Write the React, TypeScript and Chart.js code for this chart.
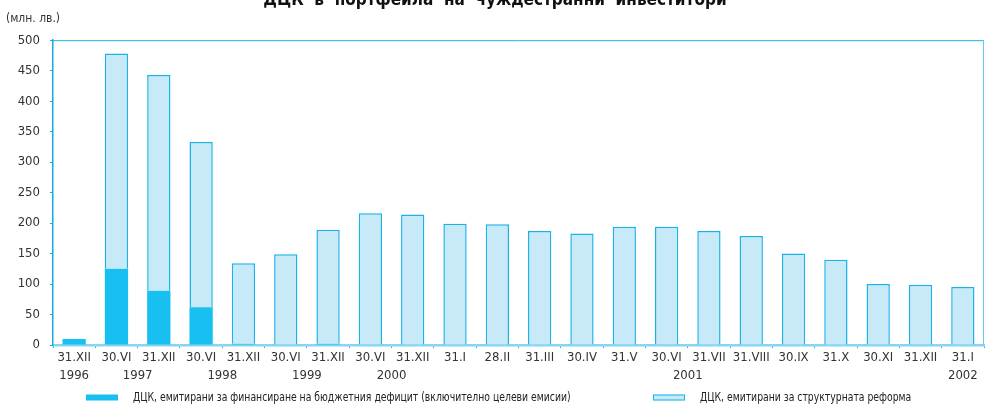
import React, { useEffect, useRef } from 'react';
import { Chart, registerables } from 'chart.js';

Chart.register(...registerables);

const FONT = "'Liberation Sans Narrow', 'Arial Narrow', 'DejaVu Sans Condensed', sans-serif";

const titleText = 'ДЦК  в  портфейла  на  чуждестранни  инвеститори';
const unitText = '(млн. лв.)';

const categories = [
  '31.XII', '30.VI', '31.XII', '30.VI', '31.XII', '30.VI', '31.XII', '30.VI', '31.XII',
  '31.I', '28.II', '31.III', '30.IV', '31.V', '30.VI', '31.VII', '31.VIII', '30.IX', '31.X', '30.XI', '31.XII',
  '31.I',
];
const categoryYears = [
  '1996', '1997', '1997', '1998', '1998', '1999', '1999', '2000', '2000',
  '2001', '2001', '2001', '2001', '2001', '2001', '2001', '2001', '2001', '2001', '2001', '2001',
  '2002',
];
const deficitValues = [10, 125, 89, 62, 2, 0, 2, 0, 1, 0, 0, 0, 0, 0, 0, 0, 0, 0, 1, 0, 0, 0];
const reformValues = [0, 353, 354, 271, 132, 149, 187, 216, 213, 199, 198, 187, 183, 194, 194, 187, 179, 150, 139, 100, 99, 95];

const seriesLabels = [
  'ДЦК, емитирани за финансиране на бюджетния дефицит (включително целеви емисии)',
  'ДЦК, емитирани за структурната реформа',
];

const yMin = 0;
const yMax = 500;
const yStep = 50;

const DARK = '#17c0f1';
const LIGHT = '#c7e9f8';
const LIGHT_BORDER = '#1ab3e8';

// year labels centred under their groups of categories
const yearLabels: string[] = [];
const yearCenters: number[] = [];
(() => {
  const groups: Record<string, number[]> = {};
  categoryYears.forEach((y, i) => {
    if (!groups[y]) { groups[y] = []; yearLabels.push(y); }
    groups[y].push(i);
  });
  yearLabels.forEach((y) => {
    const idx = groups[y];
    yearCenters.push(idx.reduce((a, b) => a + b, 0) / idx.length);
  });
})();

const framePlugin = {
  id: 'frame',
  afterDatasetsDraw(chart: any) {
    const { ctx, chartArea } = chart;
    ctx.save();
    ctx.lineWidth = 1;
    ctx.strokeStyle = '#1ab0e8';
    ctx.beginPath();
    ctx.moveTo(chartArea.left, chartArea.top + 0.5);
    ctx.lineTo(chartArea.right, chartArea.top + 0.5);
    ctx.stroke();
    ctx.strokeStyle = '#62c9ef';
    ctx.beginPath();
    ctx.moveTo(chartArea.right - 0.5, chartArea.top);
    ctx.lineTo(chartArea.right - 0.5, chartArea.bottom);
    ctx.stroke();
    ctx.restore();
  },
};

const legendPlugin = {
  id: 'bottomLegend',
  afterDraw(chart: any) {
    const { ctx } = chart;
    const y = chart.height - 6.5;
    const starts = [86, 653];
    const squeeze = 0.86;
    ctx.save();
    ctx.font = `12px ${FONT}`;
    ctx.textBaseline = 'middle';
    ctx.textAlign = 'left';
    chart.data.datasets.forEach((ds: any, i: number) => {
      const x = starts[i];
      ctx.fillStyle = ds.backgroundColor;
      ctx.fillRect(x, y - 3, 32, 6);
      if (ds.borderWidth) {
        ctx.strokeStyle = ds.borderColor;
        ctx.lineWidth = 1;
        ctx.strokeRect(x + 0.5, y - 2.5, 31, 5);
      }
      ctx.fillStyle = '#222';
      const w = ctx.measureText(ds.label).width;
      ctx.fillText(ds.label, x + 47, y + 0.5, w * squeeze);
    });
    ctx.restore();
  },
};

export default function App() {
  const ref = useRef<HTMLCanvasElement | null>(null);

  useEffect(() => {
    if (!ref.current) return;
    const chart = new Chart(ref.current, {
      type: 'bar',
      data: {
        labels: categories,
        datasets: [
          {
            label: seriesLabels[0],
            data: deficitValues,
            backgroundColor: DARK,
            borderColor: DARK,
            borderWidth: 0,
            categoryPercentage: 1,
            barPercentage: 0.55,
          },
          {
            label: seriesLabels[1],
            data: reformValues,
            backgroundColor: LIGHT,
            borderColor: LIGHT_BORDER,
            borderWidth: 1.5,
            categoryPercentage: 1,
            barPercentage: 0.55,
          },
        ],
      },
      options: {
        responsive: false,
        animation: false,
        devicePixelRatio: 1,
        layout: { padding: { left: 6, right: 2, top: 0, bottom: 20.6 } },
        plugins: {
          legend: { display: false },
          tooltip: { enabled: false },
          title: {
            display: true,
            text: titleText,
            color: '#111',
            font: { family: FONT, size: 17, weight: 'bold' },
            padding: { top: 0, bottom: 0 },
          },
          subtitle: {
            display: true,
            text: unitText,
            align: 'start',
            color: '#333',
            font: { family: FONT, size: 12 },
            padding: { top: 1.6, bottom: 13.8 },
          },
        },
        scales: {
          x: {
            stacked: true,
            offset: true,
            grid: {
              display: true,
              drawOnChartArea: false,
              drawTicks: true,
              tickLength: 3,
              offset: true,
              color: '#1aa8e0',
            },
            border: { display: true, color: '#86d5f2', width: 2.5 },
            ticks: {
              color: '#333',
              font: { family: FONT, size: 13 },
              padding: 2,
              autoSkip: false,
              maxRotation: 0,
            },
          },
          years: {
            type: 'linear',
            position: 'bottom',
            offset: false,
            min: -0.5,
            max: categories.length - 0.5,
            grid: { display: false, drawTicks: false, offset: false },
            border: { display: false },
            afterBuildTicks: (scale: any) => {
              scale.ticks = yearCenters.map((v) => ({ value: v }));
            },
            ticks: {
              color: '#333',
              font: { family: FONT, size: 13 },
              padding: 0.1,
              autoSkip: false,
              maxRotation: 0,
              callback: (_v: any, i: number) => yearLabels[i],
            },
          },
          y: {
            stacked: true,
            min: yMin,
            max: yMax,
            afterFit: (scale: any) => { scale.width = 47; },
            grid: {
              display: true,
              drawOnChartArea: false,
              drawTicks: true,
              tickLength: 3,
              color: '#1aa8e0',
            },
            border: { display: true, color: '#1aa8e0', width: 1.5 },
            ticks: {
              stepSize: yStep,
              color: '#333',
              font: { family: FONT, size: 13 },
              padding: 10,
            },
          },
        },
      } as any,
      plugins: [framePlugin, legendPlugin],
    });
    return () => chart.destroy();
  }, []);

  return (
    <div style={{ position: 'fixed', left: 0, top: 0, width: 986, height: 404, overflow: 'hidden', background: '#fff' }}>
      <canvas ref={ref} width={986} height={414} style={{ position: 'absolute', left: 0, top: -10, width: 986, height: 414 }} />
    </div>
  );
}
